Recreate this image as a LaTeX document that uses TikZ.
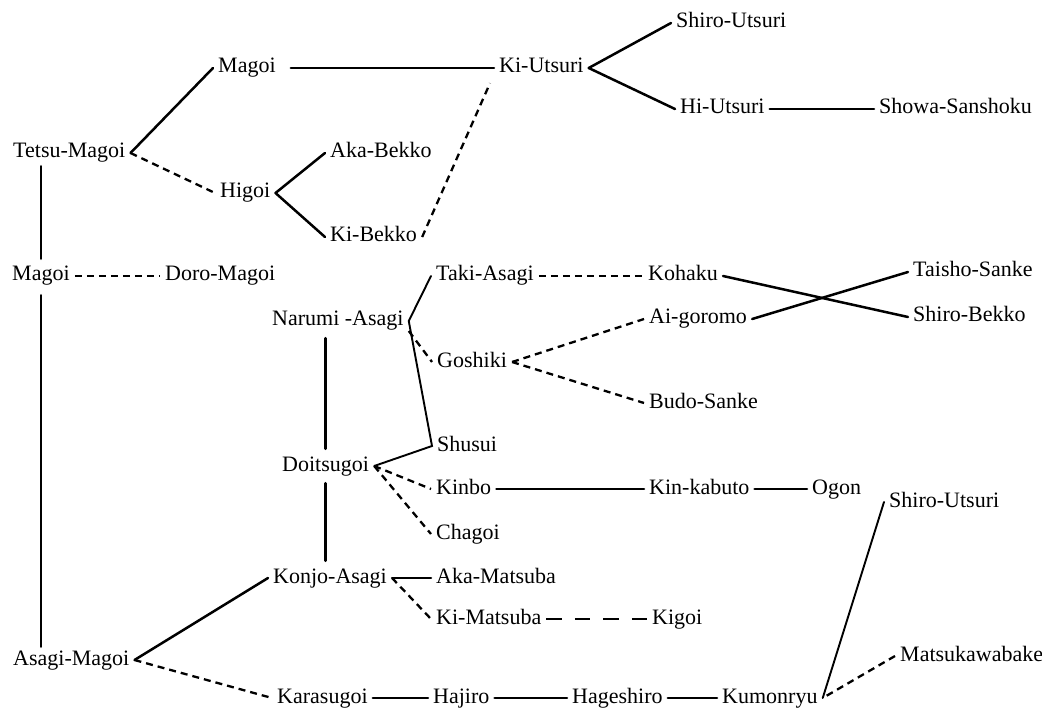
\documentclass[tikz,border=0pt]{standalone}
\usepackage{fontspec}
\setmainfont{Liberation Serif}
\begin{document}
\begin{tikzpicture}[x=1pt,y=-1pt,
  lbl/.style={anchor=west, inner xsep=5pt, inner ysep=3pt, xshift=-5pt,
    font=\fontsize{22}{26}\selectfont, text height=15pt, text depth=5pt},
  ln/.style={line width=2.5pt, line cap=round},
  thin ln/.style={line width=1.9pt, line cap=round},
  dsh/.style={line width=2.3pt, dash pattern=on 7pt off 5pt},
  ldsh/.style={line width=2.4pt, dash pattern=on 15.5pt off 13pt}]
\useasboundingbox (0,0) rectangle (1042,711);
% top section
\node[lbl] (shiroU1) at (676,23) {Shiro-Utsuri};
\node[lbl] (magoiT) at (218,68) {Magoi};
\node[lbl] (kiutsuri) at (499,68) {Ki-Utsuri};
\node[lbl] (hiutsuri) at (680,109) {Hi-Utsuri};
\node[lbl] (showa) at (879,109) {Showa-Sanshoku};
\node[lbl] (tetsu) at (13,153) {Tetsu-Magoi};
\node[lbl] (akabekko) at (330,153) {Aka-Bekko};
\node[lbl] (higoi) at (220,193) {Higoi};
\node[lbl] (kibekko) at (330,237) {Ki-Bekko};
% middle section
\node[lbl] (magoiM) at (12,276) {Magoi};
\node[lbl] (doro) at (165,276) {Doro-Magoi};
\node[lbl] (taki) at (436,276) {Taki-Asagi};
\node[lbl] (kohaku) at (648,276) {Kohaku};
\node[lbl] (taisho) at (913,272) {Taisho-Sanke};
\node[lbl] (narumi) at (272,321) {Narumi -Asagi};
\node[lbl] (aigoromo) at (649,319) {Ai-goromo};
\node[lbl] (shirobekko) at (913,317) {Shiro-Bekko};
\node[lbl] (goshiki) at (437,362) {Goshiki};
\node[lbl] (budo) at (649,403) {Budo-Sanke};
\node[lbl] (shusui) at (437,446) {Shusui};
\node[lbl] (doitsu) at (282,466) {Doitsugoi};
\node[lbl] (kinbo) at (436,489) {Kinbo};
\node[lbl] (kinkabuto) at (649,489) {Kin-kabuto};
\node[lbl] (ogon) at (812,489) {Ogon};
\node[lbl] (shiroU2) at (889,502) {Shiro-Utsuri};
\node[lbl] (chagoi) at (436,534) {Chagoi};
% bottom section
\node[lbl] (konjo) at (273,578) {Konjo-Asagi};
\node[lbl] (akamatsuba) at (436,578) {Aka-Matsuba};
\node[lbl] (kimatsuba) at (436,619) {Ki-Matsuba};
\node[lbl] (kigoi) at (652,619) {Kigoi};
\node[lbl] (matsuka) at (900,656) {Matsukawabake};
\node[lbl] (asagiM) at (13,660) {Asagi-Magoi};
\node[lbl] (karasu) at (277,698) {Karasugoi};
\node[lbl] (hajiro) at (433,698) {Hajiro};
\node[lbl] (hageshiro) at (572,698) {Hageshiro};
\node[lbl] (kumonryu) at (722,698) {Kumonryu};
% connectors: top
\draw[ln] (tetsu.east) -- (magoiT.west);
\draw[dsh] (tetsu.east) -- (higoi.west);
\draw[ln, shorten <=10pt] (magoiT.east) -- (kiutsuri.west);
\draw[ln] (higoi.east) -- (akabekko.west);
\draw[ln] (higoi.east) -- (kibekko.west);
\draw[dsh] (kibekko.east) -- ([xshift=-4pt,yshift=-2pt]kiutsuri.south west);
\draw[ln] (kiutsuri.east) -- (shiroU1.west);
\draw[ln] (kiutsuri.east) -- (hiutsuri.west);
\draw[ln] (hiutsuri.east) -- (showa.west);
% left spine
\draw[ln, shorten >=4pt] (magoiM.north |- tetsu.south) -- (magoiM.north);
\draw[ln, shorten <=6pt] (magoiM.south) -- (magoiM.south |- asagiM.north);
\draw[dsh] (magoiM.east) -- (doro.west);
% middle
\draw[thin ln] (narumi.east) -- (taki.west);
\draw[thin ln] (narumi.east) -- (shusui.west) -- (doitsu.east);
\draw[dsh] ([yshift=-10pt]narumi.east) -- (goshiki.west);
\draw[dsh] (taki.east) -- (kohaku.west);
\draw[dsh] (goshiki.east) -- (aigoromo.west);
\draw[dsh] (goshiki.east) -- (budo.west);
\draw[ln] (kohaku.east) -- (shirobekko.west);
\draw[ln] (aigoromo.east) -- (taisho.west);
\draw[ln, shorten <=4pt, shorten >=4pt] (doitsu.north |- narumi.south) -- (doitsu.north);
\draw[ln, shorten <=4pt, shorten >=4pt] (doitsu.south) -- (doitsu.south |- konjo.north);
\draw[dsh] (doitsu.east) -- (kinbo.west);
\draw[dsh] (doitsu.east) -- (chagoi.west);
\draw[ln] (kinbo.east) -- (kinkabuto.west);
\draw[ln] (kinkabuto.east) -- (ogon.west);
% bottom
\draw[ln] (akamatsuba.west) -- (konjo.east);
\draw[dsh] (konjo.east) -- (kimatsuba.west);
\draw[ldsh] (kimatsuba.east) -- (kigoi.west);
\draw[ln] (konjo.west) -- (asagiM.east);
\draw[dsh] (asagiM.east) -- (karasu.west);
\draw[ln] (karasu.east) -- (hajiro.west);
\draw[ln] (hajiro.east) -- (hageshiro.west);
\draw[ln] (hageshiro.east) -- (kumonryu.west);
\draw[thin ln] (shiroU2.west) -- (kumonryu.east);
\draw[dsh] (matsuka.west) -- (kumonryu.east);
\end{tikzpicture}
\end{document}
